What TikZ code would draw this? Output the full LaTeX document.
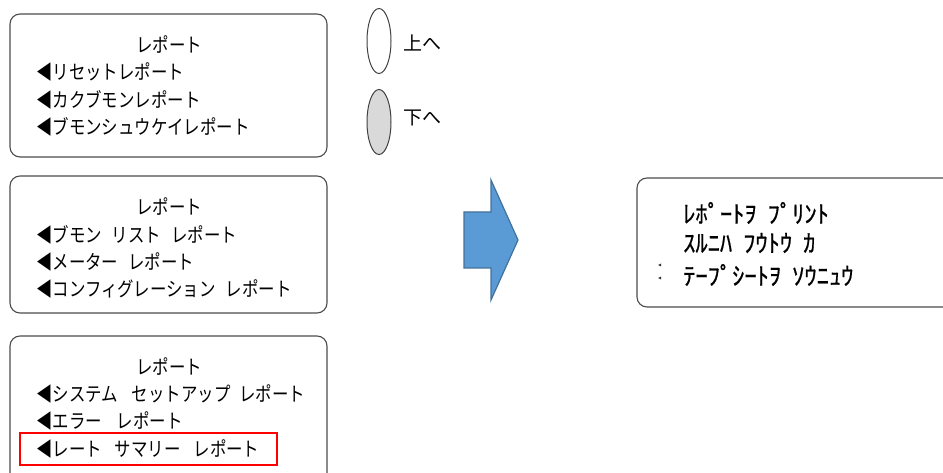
\documentclass[tikz,border=0pt]{standalone}
\usepackage{fontspec}
\usetikzlibrary{shapes.geometric}
\setmainfont{Noto Sans CJK JP}
\newfontfamily\jpfont[FakeStretch=0.83]{Noto Sans CJK JP}
\newfontfamily\keyfont{Noto Sans CJK JP}
\newfontfamily\hwfont[FakeBold=0.7]{Noto Sans CJK JP}
\newcommand{\gp}[1]{\hspace{#1pt}}
\begin{document}
\begin{tikzpicture}[x=1pt,y=-1pt,
  panel/.style={draw=black!70,line width=1.1pt,rounded corners=10pt},
  menuitem/.style={anchor=west,inner sep=0pt,font=\jpfont\fontsize{19.8}{24}\selectfont},
  menutitle/.style={anchor=center,inner sep=0pt,font=\jpfont\fontsize{19.8}{24}\selectfont},
  hwtext/.style={anchor=west,inner sep=0pt,font=\hwfont\fontsize{24.5}{28}\selectfont},
  key/.style={draw=black!75,line width=1pt,ellipse,minimum width=24pt,minimum height=65pt,inner sep=0pt},
  keylabel/.style={anchor=west,inner sep=0pt,font=\keyfont\fontsize{19}{22}\selectfont}
]
\useasboundingbox (0,0) rectangle (943,473);
\clip (0,0) rectangle (943,473);
% panels
\draw[panel] (10,14) rectangle (327,157);
\draw[panel] (10,176) rectangle (327,313);
\draw[panel] (10,336) rectangle (327,500);
\draw[panel] (637,178) rectangle (980,307);
% box 1
\node[menutitle] (t1) at (169,45) {レポート};
\node[menuitem] (a1) at (36,72) {◀リセットレポート};
\node[menuitem] (a2) at (36,100) {◀カクブモンレポート};
\node[menuitem] (a3) at (36,127) {◀ブモンシュウケイレポート};
% box 2
\node[menutitle] (t2) at (169,207) {レポート};
\node[menuitem] (b1) at (36,235) {◀ブモン\gp{10}リスト\gp{10}レポート};
\node[menuitem] (b2) at (36,262) {◀メーター\gp{10}レポート};
\node[menuitem] (b3) at (36,289) {◀コンフィグレーション\gp{10}レポート};
% box 3
\node[menutitle] (t3) at (169,367) {レポート};
\node[menuitem] (c1) at (36,394) {◀システム\gp{14}セットアップ\gp{9}レポート};
\node[menuitem] (c2) at (36,421) {◀エラー\gp{15}レポート};
\node[menuitem] (c3) at (36,449) {◀レート\gp{13}サマリー\gp{13}レポート};
\draw[red,line width=2pt] (20,433) rectangle (277,465);
% keys
\node[key] (up) at (379,41) {};
\node[key,fill=black!15] (down) at (379,122) {};
\node[keylabel] (upl) at (403,43) {上へ};
\node[keylabel] (downl) at (403,118) {下へ};
% arrow
\draw[fill={rgb,255:red,91;green,155;blue,213},draw={rgb,255:red,65;green,113;blue,156},line width=1.2pt]
  (464,212) -- (491,212) -- (491,180) -- (518,240) -- (491,300) -- (491,268) -- (464,268) -- cycle;
% right panel
\node[hwtext] (r1) at (683,213) {ﾚﾎﾟｰﾄｦ\hspace{0.45em}ﾌﾟﾘﾝﾄ};
\node[hwtext] (r2) at (683,243) {ｽﾙﾆﾊ\hspace{0.45em}ﾌｳﾄｳ\hspace{0.45em}ｶ};
\node[hwtext] (r3) at (683,275) {ﾃｰﾌﾟｼｰﾄｦ\hspace{0.45em}ｿｳﾆｭｳ};
\fill[black!80] (658,265) -- (661,263.5) -- (661,266.5) -- cycle;
\fill[black!80] (658,278) -- (661,276.5) -- (661,279.5) -- cycle;
\end{tikzpicture}
\end{document}
